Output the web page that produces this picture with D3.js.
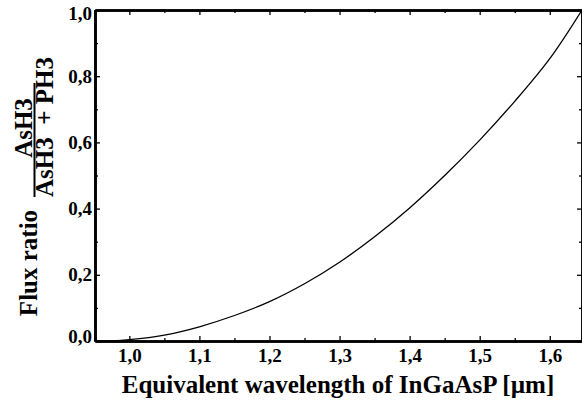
<!DOCTYPE html>
<html><head><meta charset="utf-8">
<script src="https://cdn.jsdelivr.net/npm/d3@7"></script>
<style>body{margin:0;background:#fff}svg{display:block}</style>
</head><body>
<script>
const wavelength = [0.95, 0.975, 1.00, 1.05, 1.10, 1.15, 1.20, 1.25, 1.30, 1.35, 1.40, 1.45, 1.50, 1.55, 1.60, 1.646];
const fluxRatio  = [0.000, 0.0005, 0.004, 0.018, 0.043, 0.077, 0.119, 0.173, 0.238, 0.315, 0.402, 0.500, 0.607, 0.724, 0.853, 1.000];
const xTicks = [1.0, 1.1, 1.2, 1.3, 1.4, 1.5, 1.6];
const yTicks = [0.0, 0.2, 0.4, 0.6, 0.8, 1.0];
const xTitle = "Equivalent wavelength of InGaAsP [µm]";
const yTitle = "Flux ratio";

const FONT = '"Times New Roman","Liberation Serif","DejaVu Serif",serif';
const W = 582, H = 405;
const svg = d3.select("body").append("svg").attr("width", W).attr("height", H);
const x = d3.scaleLinear().domain([0.951, 1.646]).range([95, 582]);
const y = d3.scaleLinear().domain([0, 1]).range([341, 10]);
const fmt = d => d3.format(".1f")(d).replace(".", ",");

const minorX = d3.range(0.95, 1.651, 0.05).filter(v => !xTicks.some(t => Math.abs(t - v) < 1e-6));
const minorY = d3.range(0.1, 1.0, 0.2);

const gB = svg.append("g").attr("transform", `translate(0,${y(0)})`)
  .call(d3.axisBottom(x).tickValues(xTicks).tickSizeInner(-5).tickSizeOuter(0).tickPadding(8).tickFormat(fmt));
svg.append("g").attr("transform", `translate(0,${y(0)})`)
  .call(d3.axisBottom(x).tickValues(minorX).tickSizeInner(-3).tickSizeOuter(0).tickFormat(""));
svg.append("g").attr("transform", `translate(0,${y(1)})`)
  .call(d3.axisTop(x).tickValues(xTicks).tickSizeInner(-5).tickSizeOuter(0).tickFormat(""));
svg.append("g").attr("transform", `translate(0,${y(1)})`)
  .call(d3.axisTop(x).tickValues(minorX).tickSizeInner(-3).tickSizeOuter(0).tickFormat(""));
const gL = svg.append("g").attr("transform", `translate(${x(0.951)},0)`)
  .call(d3.axisLeft(y).tickValues(yTicks).tickSizeInner(-5).tickSizeOuter(0).tickPadding(3).tickFormat(fmt));
svg.append("g").attr("transform", `translate(${x(0.951)},0)`)
  .call(d3.axisLeft(y).tickValues(minorY).tickSizeInner(-3).tickSizeOuter(0).tickFormat(""));
svg.append("g").attr("transform", `translate(${x(1.646)},0)`)
  .call(d3.axisRight(y).tickValues(yTicks).tickSizeInner(-5).tickSizeOuter(0).tickFormat(""));
svg.append("g").attr("transform", `translate(${x(1.646)},0)`)
  .call(d3.axisRight(y).tickValues(minorY).tickSizeInner(-3).tickSizeOuter(0).tickFormat(""));

svg.selectAll("g").attr("font-family", FONT);
svg.selectAll(".domain").attr("stroke", "#000").attr("stroke-width", 2.6);
svg.selectAll(".tick line").attr("stroke", "#000").attr("stroke-width", 1.3);
svg.selectAll(".tick text").attr("font-size", 19).attr("font-weight", "bold").attr("font-family", FONT).attr("fill", "#000");
gL.selectAll(".tick text").attr("dy", d => d === 0 ? "0.1em" : d === 1 ? "0.5em" : "0.32em");

const line = d3.line().x((d, i) => x(wavelength[i])).y(d => y(d)).curve(d3.curveCatmullRom);
svg.append("path").datum(fluxRatio).attr("d", line).attr("fill", "none").attr("stroke", "#000").attr("stroke-width", 1.3);

function label(t) { return t.attr("font-family", FONT).attr("font-weight", "bold").attr("font-size", 25).attr("fill", "#000"); }
label(svg.append("text").attr("x", 338).attr("y", 393).attr("text-anchor", "middle").text(xTitle));
label(svg.append("text").attr("transform", "translate(37,263) rotate(-90)").attr("text-anchor", "middle").text(yTitle));
label(svg.append("text").attr("transform", "translate(32,128) rotate(-90)").attr("text-anchor", "middle").text("AsH3"));
svg.append("line").attr("x1", 34.5).attr("x2", 34.5).attr("y1", 197).attr("y2", 83).attr("stroke", "#000").attr("stroke-width", 2);
label(svg.append("text").attr("transform", "translate(53,197) rotate(-90)").attr("text-anchor", "start").attr("xml:space", "preserve").text("AsH3  + PH3"));
</script>
</body></html>
